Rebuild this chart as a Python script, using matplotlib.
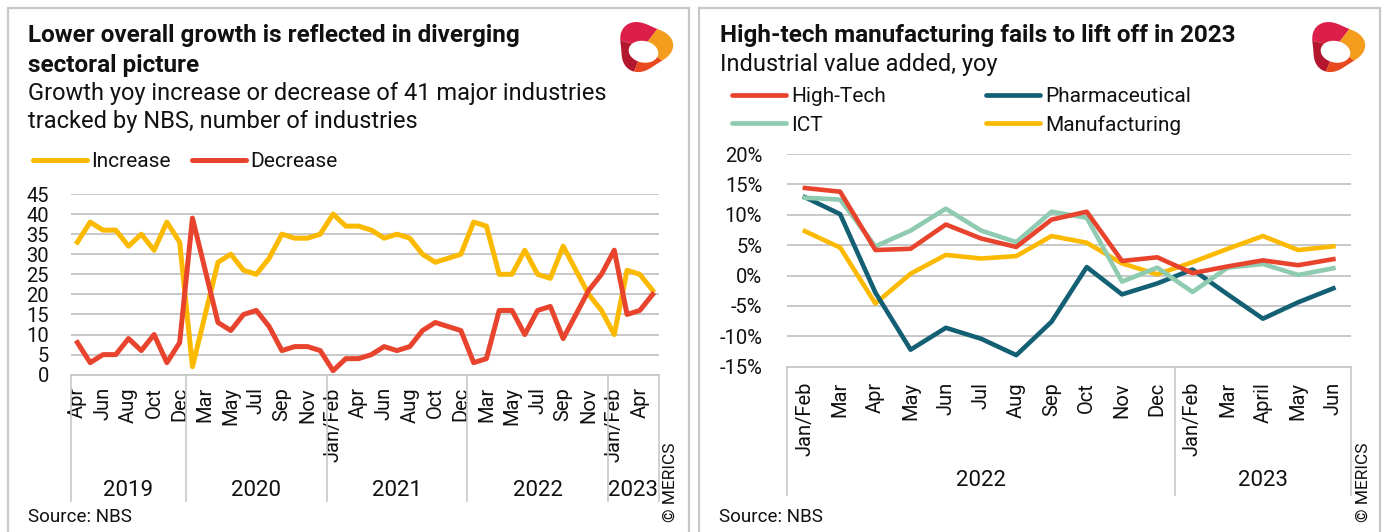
import numpy as np
import matplotlib
matplotlib.use("Agg")
import matplotlib.pyplot as plt
from matplotlib.patches import Rectangle, Polygon, Ellipse
from matplotlib.lines import Line2D
import matplotlib.transforms as mtransforms

plt.rcParams["font.family"] = ["Roboto", "DejaVu Sans"]

# --- left chart: 41 major industries, Apr 2019 .. May 2023 ---
ind_months = (["Apr", "May", "Jun", "Jul", "Aug", "Sep", "Oct", "Nov", "Dec"]
              + ["Jan/Feb", "Mar", "Apr", "May", "Jun", "Jul", "Aug", "Sep", "Oct", "Nov", "Dec"] * 3
              + ["Jan/Feb", "Mar", "Apr", "May"])
ind_years = ["2019", "2020", "2021", "2022", "2023"]
ind_year_len = [9, 11, 11, 11, 4]
increase = [33, 38, 36, 36, 32, 35, 31, 38, 33,
            2, 15, 28, 30, 26, 25, 29, 35, 34, 34, 35,
            40, 37, 37, 36, 34, 35, 34, 30, 28, 29, 30,
            38, 37, 25, 25, 31, 25, 24, 32, 26, 20, 16,
            10, 26, 25, 21]
decrease = [8, 3, 5, 5, 9, 6, 10, 3, 8,
            39, 26, 13, 11, 15, 16, 12, 6, 7, 7, 6,
            1, 4, 4, 5, 7, 6, 7, 11, 13, 12, 11,
            3, 4, 16, 16, 10, 16, 17, 9, 15, 21, 25,
            31, 15, 16, 20]

# --- right chart: industrial value added yoy, % ---
va_months = ["Jan/Feb", "Mar", "Apr", "May", "Jun", "Jul", "Aug", "Sep", "Oct", "Nov", "Dec",
             "Jan/Feb", "Mar", "April", "May", "Jun"]
va_years = ["2022", "2023"]
va_year_len = [11, 5]
high_tech = [14.4, 13.8, 4.2, 4.4, 8.4, 6.1, 4.7, 9.2, 10.5, 2.4, 3.0, 0.4, 1.5, 2.5, 1.7, 2.7]
pharma = [12.9, 10.1, -2.8, -12.2, -8.6, -10.4, -13.1, -7.6, 1.4, -3.1, -1.3, 1.0, -3.1, -7.1, -4.4, -2.1]
ict = [12.8, 12.5, 4.8, 7.4, 11.0, 7.4, 5.5, 10.5, 9.5, -1.0, 1.3, -2.7, 1.3, 1.9, 0.1, 1.2]
manufacturing = [7.3, 4.6, -4.6, 0.3, 3.4, 2.8, 3.2, 6.5, 5.4, 2.0, 0.2, 2.2, 4.4, 6.5, 4.2, 4.8]

YELLOW = "#fbb900"
RED = "#e8432d"
TEAL = "#135f73"
MINT = "#8ecbb0"
GRID = "#c4c4c4"
FRAME = "#c8c8c8"
TEXT = "#111111"

W, H = 1384, 532
fig = plt.figure(figsize=(W / 100, H / 100), dpi=100)


def fx(x):
    return x / W


def fy(y):
    return 1 - y / H


def px_axes(x0, y0, x1, y1):
    return fig.add_axes([fx(x0), fy(y1), (x1 - x0) / W, (y1 - y0) / H])


def draw_logo(x0, y0, w, h):
    ax = px_axes(x0, y0, x0 + w, y0 + h)
    ax.set_xlim(-1.15, 1.15)
    ax.set_ylim(-1.15, 1.15)
    ax.axis("off")
    sectors = [(55, 165, "#dc1f48"), (165, 250, "#b3172d"),
               (250, 320, "#e8491e"), (320, 415, "#f49c1c")]
    for a0, a1, col in sectors:
        th = np.radians(np.linspace(a0, a1, 40))
        r = 1 + 0.12 * np.cos(3 * (th - np.radians(125)))
        pts = np.column_stack([r * np.cos(th), r * np.sin(th)])
        pts = np.vstack([[0, 0], pts])
        ax.add_patch(Polygon(pts, closed=True, fc=col, ec="none"))
    ax.add_patch(Ellipse((-0.02, -0.22), 1.15, 0.9, angle=-15, fc="white", ec="none"))


def category_axis(ax, labels, year_names, year_len, label_pad, sep_bottom, year_y):
    n = len(labels)
    ax.set_xlim(-0.5, n - 0.5)
    trans = mtransforms.blended_transform_factory(ax.transData, fig.transFigure)
    edges = np.concatenate([[0], np.cumsum(year_len)]) - 0.5
    y_axis_px = (1 - ax.get_position().y0) * H
    for e in edges:
        ax.add_line(Line2D([e, e], [fy(y_axis_px), fy(sep_bottom)], transform=trans,
                           color=FRAME, lw=1.2, clip_on=False))
    for name, a, b in zip(year_names, edges[:-1], edges[1:]):
        ax.text((a + b) / 2, fy(year_y), name, transform=trans, ha="center", va="center",
                fontsize=16, color=TEXT)
    ax.tick_params(axis="x", length=0, pad=label_pad, labelsize=14.5, labelcolor=TEXT)


# panel frames
for x0, x1 in [(8, 689), (699, 1380)]:
    fig.add_artist(Rectangle((fx(x0), fy(545)), (x1 - x0) / W, (545 - 8) / H,
                             transform=fig.transFigure, fc="none", ec=FRAME, lw=1.6))

# ---------------- left chart ----------------
fig.text(fx(28), fy(41.7), "Lower overall growth is reflected in diverging",
         fontsize=17.5, fontweight="bold", color=TEXT, va="baseline")
fig.text(fx(28), fy(71.7), "sectoral picture", fontsize=17.5, fontweight="bold", color=TEXT, va="baseline")
fig.text(fx(28), fy(100), "Growth yoy increase or decrease of 41 major industries",
         fontsize=17, color=TEXT, va="baseline")
fig.text(fx(28), fy(128.3), "tracked by NBS, number of industries", fontsize=17, color=TEXT, va="baseline")
for (lx0, lx1, tx, col, name) in [(33, 87, 91.5, YELLOW, "Increase"), (192, 246, 250, RED, "Decrease")]:
    fig.add_artist(Line2D([fx(lx0), fx(lx1)], [fy(160), fy(160)], color=col, lw=3.6,
                          solid_capstyle="round"))
    fig.text(fx(tx), fy(166.7), name, fontsize=15, color=TEXT, va="baseline")

ax1 = px_axes(71, 194, 659, 374.7)
x1 = np.arange(len(ind_months))
ax1.plot(x1, increase, color=YELLOW, lw=3.6, solid_joinstyle="round", clip_on=False, zorder=3)
ax1.plot(x1, decrease, color=RED, lw=3.6, solid_joinstyle="round", clip_on=False, zorder=3)
ax1.set_ylim(0, 45)
ax1.set_yticks(range(0, 46, 5))
ax1.tick_params(axis="y", length=0, pad=16, labelsize=14.5, labelcolor=TEXT)
ax1.grid(axis="y", color=GRID, lw=1.3)
ax1.set_axisbelow(True)
for s in ["top", "right", "left"]:
    ax1.spines[s].set_visible(False)
ax1.spines["bottom"].set_color(FRAME)
ax1.spines["bottom"].set_linewidth(1.3)
ax1.set_xticks(x1[::2])
ax1.set_xticklabels(ind_months[::2], rotation=90, va="top")
category_axis(ax1, ind_months, ind_years, ind_year_len, label_pad=9, sep_bottom=501, year_y=490)

fig.text(fx(28), fy(522), "Source: NBS", fontsize=13.5, color=TEXT, va="baseline")
fig.text(fx(670), fy(522), "© MERICS", fontsize=12.5, color=TEXT, rotation=90, ha="center", va="bottom")
draw_logo(614, 19, 60, 55)

# ---------------- right chart ----------------
fig.text(fx(720), fy(41.7), "High-tech manufacturing fails to lift off in 2023",
         fontsize=17.5, fontweight="bold", color=TEXT, va="baseline")
fig.text(fx(720), fy(70.7), "Industrial value added, yoy", fontsize=17, color=TEXT, va="baseline")
legend_items = [(732, 95, 101.7, RED, "High-Tech"), (986, 95, 101.7, TEAL, "Pharmaceutical"),
                (732, 123.3, 130.7, MINT, "ICT"), (986, 123.3, 130.7, YELLOW, "Manufacturing")]
for lx, ly, ty, col, name in legend_items:
    fig.add_artist(Line2D([fx(lx), fx(lx + 54)], [fy(ly), fy(ly)], color=col, lw=3.4,
                          solid_capstyle="round"))
    fig.text(fx(lx + 59), fy(ty), name, fontsize=15, color=TEXT, va="baseline")

ax2 = px_axes(787.3, 154, 1351, 366.7)
x2 = np.arange(len(va_months))
for series, col in [(manufacturing, YELLOW), (pharma, TEAL), (ict, MINT), (high_tech, RED)]:
    ax2.plot(x2, series, color=col, lw=3.3, solid_joinstyle="round", clip_on=False, zorder=3)
ax2.set_ylim(-15, 20)
ax2.set_yticks(range(-15, 21, 5))
ax2.set_yticklabels([f"{v}%" for v in range(-15, 21, 5)])
ax2.tick_params(axis="y", length=0, pad=18, labelsize=14.5, labelcolor=TEXT)
ax2.grid(axis="y", color=GRID, lw=1.3)
ax2.set_axisbelow(True)
for s in ["top", "right", "left"]:
    ax2.spines[s].set_visible(False)
ax2.spines["bottom"].set_color(FRAME)
ax2.spines["bottom"].set_linewidth(1.3)
ax2.set_xticks(x2)
ax2.set_xticklabels(va_months, rotation=90, va="top")
category_axis(ax2, va_months, va_years, va_year_len, label_pad=11, sep_bottom=495, year_y=481)

fig.text(fx(719), fy(522), "Source: NBS", fontsize=13.5, color=TEXT, va="baseline")
fig.text(fx(1363), fy(522), "© MERICS", fontsize=12.5, color=TEXT, rotation=90, ha="center", va="bottom")
draw_logo(1306, 19, 60, 55)

fig.savefig("out.png", dpi=100)
